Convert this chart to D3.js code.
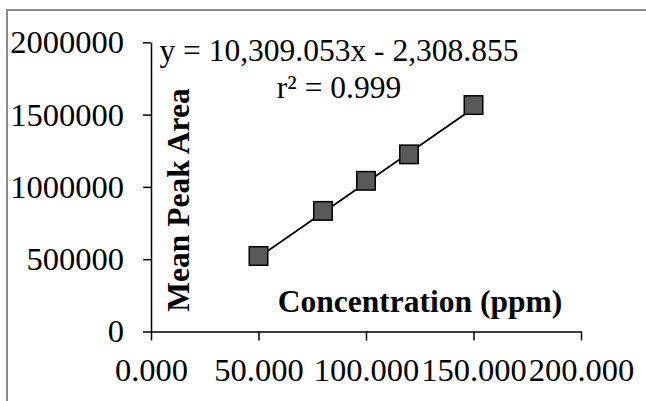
<!DOCTYPE html>
<html>
<head>
<meta charset="utf-8">
<script src="https://cdn.jsdelivr.net/npm/d3@7"></script>
<style>
  body { margin: 0; background: #fff; }
  svg { display: block; font-family: "Liberation Serif", "Times New Roman", serif; }
</style>
</head>
<body>
<svg width="646" height="401"></svg>
<script>
  // values
  var concentration = [50, 80, 100, 120, 150];
  var peakArea = [522000, 834000, 1042000, 1225000, 1566000];
  var xTicks = [0, 50, 100, 150, 200];
  var yTicks = [0, 500000, 1000000, 1500000, 2000000];
  var slope = 10309.053, intercept = -2308.855;
  var eqLabel = "y = 10,309.053x - 2,308.855";
  var r2Label = "r² = 0.999";

  var svg = d3.select("svg"),
      fontSize = "31.5px",
      tickFont = "32.5px";

  // chart frame (runs off right and bottom edge)
  svg.append("rect")
      .attr("x", 7).attr("y", 10)
      .attr("width", 700).attr("height", 450)
      .attr("fill", "none")
      .attr("stroke", "#8a8a8a")
      .attr("stroke-width", 2);

  var x = d3.scaleLinear().domain([0, 200]).range([151, 581]);
  var y = d3.scaleLinear().domain([0, 2000000]).range([331.5, 42.3]);

  var yAxis = svg.append("g")
      .attr("transform", "translate(" + x(0) + ",0)")
      .call(d3.axisLeft(y).tickValues(yTicks).tickSize(8).tickSizeOuter(0).tickPadding(19)
        .tickFormat(d3.format("d")));

  var xAxis = svg.append("g")
      .attr("transform", "translate(0," + y(0) + ")")
      .call(d3.axisBottom(x).tickValues(xTicks).tickSize(9).tickSizeOuter(0).tickPadding(17)
        .tickFormat(d3.format(".3f")));

  [xAxis, yAxis].forEach(function(a) {
    a.selectAll("path, line").attr("stroke", "#000").attr("stroke-width", 1.5);
    a.selectAll("text")
      .attr("fill", "#000")
      .style("font-family", "'Liberation Serif', 'Times New Roman', serif")
      .style("font-size", tickFont);
  });

  // trendline
  var fit = function(v) { return slope * v + intercept; };
  var xr = d3.extent(concentration);
  svg.append("line")
      .attr("x1", x(xr[0])).attr("y1", y(fit(xr[0])))
      .attr("x2", x(xr[1])).attr("y2", y(fit(xr[1])))
      .attr("stroke", "#000")
      .attr("stroke-width", 1.8);

  // markers
  var side = 18.5;
  svg.append("g")
    .selectAll("rect")
    .data(concentration)
    .enter().append("rect")
      .attr("x", function(d) { return x(d) - side / 2; })
      .attr("y", function(d, i) { return y(peakArea[i]) - side / 2; })
      .attr("width", side)
      .attr("height", side)
      .attr("fill", "#595959")
      .attr("stroke", "#000")
      .attr("stroke-width", 1.5);

  // equation labels
  svg.append("text")
      .attr("x", 339).attr("y", 61)
      .attr("text-anchor", "middle")
      .style("font-size", fontSize)
      .text(eqLabel);

  svg.append("text")
      .attr("x", 339).attr("y", 98)
      .attr("text-anchor", "middle")
      .style("font-size", fontSize)
      .text(r2Label);

  // axis titles
  svg.append("text")
      .attr("transform", "translate(189,200) rotate(-90)")
      .attr("text-anchor", "middle")
      .attr("font-weight", "bold")
      .style("font-size", fontSize)
      .text("Mean Peak Area");

  svg.append("text")
      .attr("x", 420).attr("y", 311.5)
      .attr("text-anchor", "middle")
      .attr("font-weight", "bold")
      .style("font-size", fontSize)
      .text("Concentration (ppm)");
</script>
</body>
</html>
